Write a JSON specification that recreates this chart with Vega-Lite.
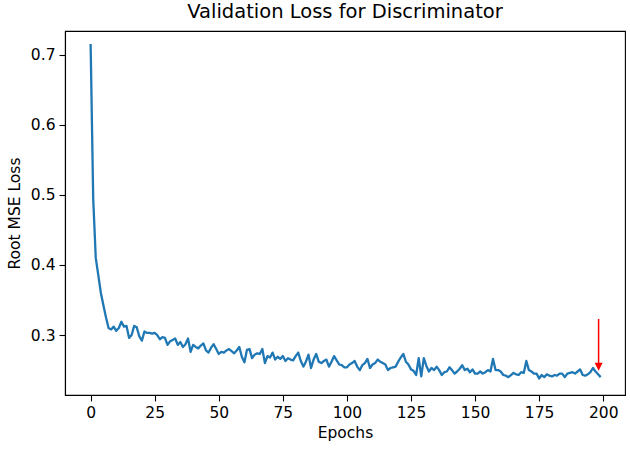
{
  "$schema": "https://vega.github.io/schema/vega-lite/v6.json",
  "width": 560,
  "height": 364,
  "autosize": {"type": "none"},
  "padding": {"left": 65, "top": 31, "right": 5, "bottom": 54},
  "background": "white",
  "config": {
    "font": "DejaVu Sans",
    "view": {"stroke": "black", "strokeWidth": 1.1},
    "axis": {
      "domainColor": "black", "domainWidth": 1.1,
      "tickColor": "black", "tickWidth": 1.1, "tickSize": 6,
      "labelFont": "DejaVu Sans", "labelFontSize": 15.5, "labelColor": "black",
      "titleFont": "DejaVu Sans", "titleFontSize": 15.5, "titleFontWeight": "normal", "titleColor": "black",
      "grid": false, "labelPadding": 4
    },
    "title": {"font": "DejaVu Sans", "fontSize": 19.5, "fontWeight": "normal", "color": "black", "offset": 9}
  },
  "title": "Validation Loss for Discriminator",
  "datasets": {
    "loss": [
      {"epoch":0,"loss":0.715},{"epoch":1,"loss":0.495},{"epoch":2,"loss":0.41},{"epoch":3,"loss":0.385},{"epoch":4,"loss":0.36},
      {"epoch":5,"loss":0.342},{"epoch":6,"loss":0.325},{"epoch":7,"loss":0.31},{"epoch":8,"loss":0.308},{"epoch":9,"loss":0.312},
      {"epoch":10,"loss":0.306},{"epoch":11,"loss":0.31},{"epoch":12,"loss":0.319},{"epoch":13,"loss":0.312},{"epoch":14,"loss":0.313},
      {"epoch":15,"loss":0.296},{"epoch":16,"loss":0.3},{"epoch":17,"loss":0.313},{"epoch":18,"loss":0.311},{"epoch":19,"loss":0.298},
      {"epoch":20,"loss":0.292},{"epoch":21,"loss":0.305},{"epoch":22,"loss":0.303},{"epoch":23,"loss":0.303},{"epoch":24,"loss":0.302},
      {"epoch":25,"loss":0.303},{"epoch":26,"loss":0.3},{"epoch":27,"loss":0.294},{"epoch":28,"loss":0.297},{"epoch":29,"loss":0.296},
      {"epoch":30,"loss":0.286},{"epoch":31,"loss":0.291},{"epoch":32,"loss":0.293},{"epoch":33,"loss":0.295},{"epoch":34,"loss":0.286},
      {"epoch":35,"loss":0.29},{"epoch":36,"loss":0.283},{"epoch":37,"loss":0.287},{"epoch":38,"loss":0.295},{"epoch":39,"loss":0.276},
      {"epoch":40,"loss":0.286},{"epoch":41,"loss":0.283},{"epoch":42,"loss":0.281},{"epoch":43,"loss":0.285},{"epoch":44,"loss":0.288},
      {"epoch":45,"loss":0.278},{"epoch":46,"loss":0.275},{"epoch":47,"loss":0.282},{"epoch":48,"loss":0.287},{"epoch":49,"loss":0.28},
      {"epoch":50,"loss":0.273},{"epoch":51,"loss":0.276},{"epoch":52,"loss":0.275},{"epoch":53,"loss":0.278},{"epoch":54,"loss":0.28},
      {"epoch":55,"loss":0.277},{"epoch":56,"loss":0.274},{"epoch":57,"loss":0.278},{"epoch":58,"loss":0.283},{"epoch":59,"loss":0.269},
      {"epoch":60,"loss":0.261},{"epoch":61,"loss":0.279},{"epoch":62,"loss":0.28},{"epoch":63,"loss":0.267},{"epoch":64,"loss":0.272},
      {"epoch":65,"loss":0.274},{"epoch":66,"loss":0.273},{"epoch":67,"loss":0.28},{"epoch":68,"loss":0.26},{"epoch":69,"loss":0.27},
      {"epoch":70,"loss":0.268},{"epoch":71,"loss":0.275},{"epoch":72,"loss":0.265},{"epoch":73,"loss":0.269},{"epoch":74,"loss":0.266},
      {"epoch":75,"loss":0.27},{"epoch":76,"loss":0.263},{"epoch":77,"loss":0.267},{"epoch":78,"loss":0.265},{"epoch":79,"loss":0.264},
      {"epoch":80,"loss":0.27},{"epoch":81,"loss":0.275},{"epoch":82,"loss":0.263},{"epoch":83,"loss":0.255},{"epoch":84,"loss":0.262},
      {"epoch":85,"loss":0.272},{"epoch":86,"loss":0.253},{"epoch":87,"loss":0.265},{"epoch":88,"loss":0.273},{"epoch":89,"loss":0.262},
      {"epoch":90,"loss":0.26},{"epoch":91,"loss":0.263},{"epoch":92,"loss":0.265},{"epoch":93,"loss":0.255},{"epoch":94,"loss":0.262},
      {"epoch":95,"loss":0.27},{"epoch":96,"loss":0.264},{"epoch":97,"loss":0.258},{"epoch":98,"loss":0.257},{"epoch":99,"loss":0.254},
      {"epoch":100,"loss":0.254},{"epoch":101,"loss":0.258},{"epoch":102,"loss":0.26},{"epoch":103,"loss":0.263},{"epoch":104,"loss":0.255},
      {"epoch":105,"loss":0.25},{"epoch":106,"loss":0.257},{"epoch":107,"loss":0.26},{"epoch":108,"loss":0.266},{"epoch":109,"loss":0.253},
      {"epoch":110,"loss":0.258},{"epoch":111,"loss":0.26},{"epoch":112,"loss":0.265},{"epoch":113,"loss":0.262},{"epoch":114,"loss":0.26},
      {"epoch":115,"loss":0.258},{"epoch":116,"loss":0.25},{"epoch":117,"loss":0.253},{"epoch":118,"loss":0.254},{"epoch":119,"loss":0.255},
      {"epoch":120,"loss":0.262},{"epoch":121,"loss":0.268},{"epoch":122,"loss":0.273},{"epoch":123,"loss":0.262},{"epoch":124,"loss":0.258},
      {"epoch":125,"loss":0.251},{"epoch":126,"loss":0.249},{"epoch":127,"loss":0.243},{"epoch":128,"loss":0.267},{"epoch":129,"loss":0.241},
      {"epoch":130,"loss":0.267},{"epoch":131,"loss":0.256},{"epoch":132,"loss":0.248},{"epoch":133,"loss":0.253},{"epoch":134,"loss":0.25},
      {"epoch":135,"loss":0.255},{"epoch":136,"loss":0.25},{"epoch":137,"loss":0.243},{"epoch":138,"loss":0.247},{"epoch":139,"loss":0.248},
      {"epoch":140,"loss":0.254},{"epoch":141,"loss":0.25},{"epoch":142,"loss":0.245},{"epoch":143,"loss":0.248},{"epoch":144,"loss":0.252},
      {"epoch":145,"loss":0.257},{"epoch":146,"loss":0.25},{"epoch":147,"loss":0.252},{"epoch":148,"loss":0.247},{"epoch":149,"loss":0.251},
      {"epoch":150,"loss":0.245},{"epoch":151,"loss":0.245},{"epoch":152,"loss":0.248},{"epoch":153,"loss":0.245},{"epoch":154,"loss":0.247},
      {"epoch":155,"loss":0.25},{"epoch":156,"loss":0.248},{"epoch":157,"loss":0.266},{"epoch":158,"loss":0.25},{"epoch":159,"loss":0.25},
      {"epoch":160,"loss":0.248},{"epoch":161,"loss":0.243},{"epoch":162,"loss":0.242},{"epoch":163,"loss":0.24},{"epoch":164,"loss":0.243},
      {"epoch":165,"loss":0.246},{"epoch":166,"loss":0.244},{"epoch":167,"loss":0.243},{"epoch":168,"loss":0.247},{"epoch":169,"loss":0.246},
      {"epoch":170,"loss":0.263},{"epoch":171,"loss":0.25},{"epoch":172,"loss":0.248},{"epoch":173,"loss":0.245},{"epoch":174,"loss":0.245},
      {"epoch":175,"loss":0.238},{"epoch":176,"loss":0.243},{"epoch":177,"loss":0.24},{"epoch":178,"loss":0.244},{"epoch":179,"loss":0.242},
      {"epoch":180,"loss":0.241},{"epoch":181,"loss":0.243},{"epoch":182,"loss":0.242},{"epoch":183,"loss":0.245},{"epoch":184,"loss":0.245},
      {"epoch":185,"loss":0.24},{"epoch":186,"loss":0.245},{"epoch":187,"loss":0.246},{"epoch":188,"loss":0.247},{"epoch":189,"loss":0.245},
      {"epoch":190,"loss":0.248},{"epoch":191,"loss":0.251},{"epoch":192,"loss":0.243},{"epoch":193,"loss":0.242},{"epoch":194,"loss":0.244},
      {"epoch":195,"loss":0.247},{"epoch":196,"loss":0.253},{"epoch":197,"loss":0.248},{"epoch":198,"loss":0.244},{"epoch":199,"loss":0.24}
    ],
    "arrow": [
      {"epoch": 198.2, "top": 0.323, "bottom": 0.259, "tip": 0.2548}
    ]
  },
  "layer": [
    {
      "data": {"name": "loss"},
      "mark": {"type": "line", "color": "#1f77b4", "strokeWidth": 2.3, "strokeJoin": "round", "clip": true},
      "encoding": {
        "x": {
          "field": "epoch", "type": "quantitative",
          "scale": {"domain": [-10, 208.5], "nice": false, "zero": false},
          "axis": {"values": [0, 25, 50, 75, 100, 125, 150, 175, 200], "title": "Epochs", "titlePadding": 5}
        },
        "y": {
          "field": "loss", "type": "quantitative",
          "scale": {"domain": [0.2145, 0.7336], "nice": false, "zero": false},
          "axis": {"values": [0.3, 0.4, 0.5, 0.6, 0.7], "format": ".1f", "title": "Root MSE Loss", "titlePadding": 8}
        }
      }
    },
    {
      "data": {"name": "arrow"},
      "mark": {"type": "rule", "color": "#ff0000", "strokeWidth": 1.5},
      "encoding": {
        "x": {"field": "epoch", "type": "quantitative"},
        "y": {"field": "top", "type": "quantitative"},
        "y2": {"field": "bottom"}
      }
    },
    {
      "data": {"name": "arrow"},
      "mark": {"type": "point", "shape": "M-1,-1L1,-1L0,1Z", "filled": true, "color": "#ff0000", "opacity": 1, "size": 64, "strokeWidth": 0},
      "encoding": {
        "x": {"field": "epoch", "type": "quantitative"},
        "y": {"field": "tip", "type": "quantitative"}
      }
    }
  ]
}
